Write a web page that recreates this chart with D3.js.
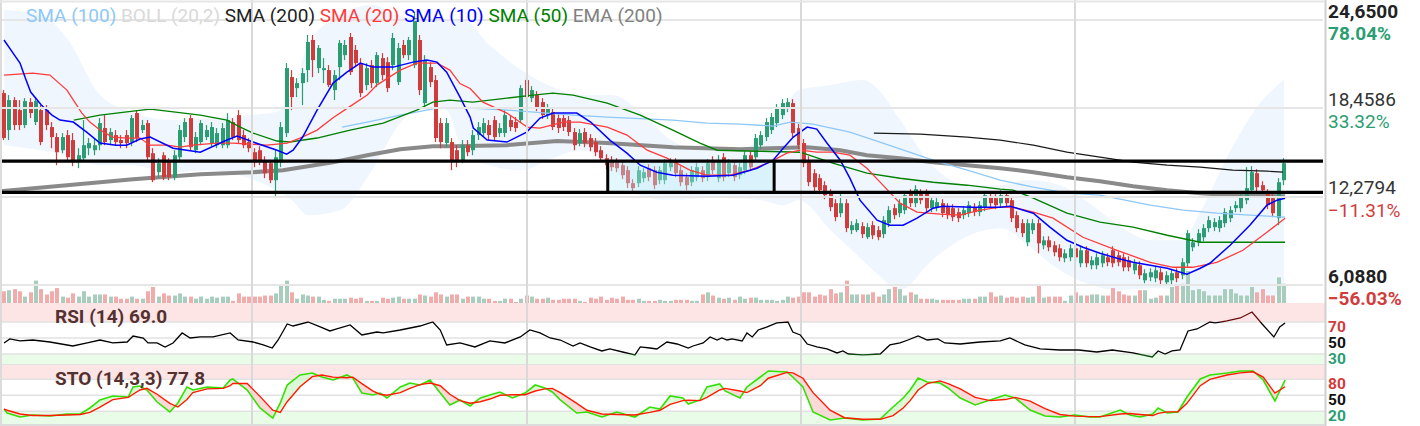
<!DOCTYPE html>
<html><head><meta charset="utf-8">
<script src="https://cdn.jsdelivr.net/npm/d3@7"></script>
<style>body{margin:0;background:#fff}svg{display:block;font-family:Roboto,"Noto Sans",sans-serif}</style>
</head><body><svg id="c" width="1420" height="426"></svg>
<script>
// ---------- DATA (weekly candles) ----------
const opens=[19.53,16.94,19.04,18.34,17.29,18.90,17.50,18.34,18.34,17.15,16.45,15.53,16.59,16.24,14.69,14.97,15.67,15.53,15.88,17.08,16.24,16.59,16.24,16.59,16.10,18.13,16.94,17.43,15.32,13.99,15.18,14.69,13.64,15.04,16.45,17.78,15.53,16.10,16.45,16.03,15.88,15.88,15.88,17.50,17.99,16.59,16.10,15.39,15.53,14.83,14.62,13.43,14.69,16.73,20.65,19.88,20.23,21.14,23.25,21.28,21.14,21.14,19.74,21.35,22.19,23.46,22.55,21.63,20.09,21.49,20.23,21.98,21.70,21.49,20.30,22.90,22.19,21.49,23.25,18.83,21.35,20.44,17.43,16.03,16.10,15.53,14.83,15.88,15.53,16.59,16.73,17.29,17.64,16.73,16.73,17.64,17.50,17.64,20.44,19.18,19.39,18.90,17.99,18.20,17.78,17.78,17.64,16.80,16.03,16.80,16.38,16.10,15.53,14.97,14.83,14.69,14.48,14.13,13.22,13.22,13.57,14.27,14.13,13.43,13.43,14.34,14.69,14.13,13.64,13.29,13.64,14.13,13.64,14.83,13.57,15.04,13.92,14.48,13.78,14.13,15.18,15.04,15.88,16.45,16.94,17.43,17.99,18.48,18.83,17.08,16.03,14.83,13.92,13.57,13.08,12.52,11.82,11.12,11.82,9.93,9.93,10.21,9.44,10.28,9.93,9.65,10.42,11.47,11.12,11.33,12.52,11.82,12.52,12.52,11.47,11.54,11.82,11.54,11.47,11.19,10.98,11.12,11.54,11.19,11.54,12.31,12.17,11.82,12.38,12.03,10.98,10.42,9.08,9.93,10.42,8.87,9.22,8.87,8.66,7.96,8.03,8.66,7.61,8.52,7.47,7.47,7.61,8.03,8.52,8.17,8.03,7.82,7.12,7.47,6.42,6.63,6.56,6.98,6.28,6.42,6.98,6.77,7.61,8.73,9.08,9.43,10.07,10.14,10.07,10.42,10.77,11.47,11.47,12.03,12.73,13.92,13.08,12.52,12.17,10.77,13.43];
const highs=[19.74,19.39,19.25,19.04,19.18,19.18,19.25,18.69,18.69,17.50,16.73,16.73,16.94,16.73,15.67,17.64,16.38,16.38,17.78,17.99,17.08,16.94,16.59,16.94,17.99,18.34,17.64,17.64,15.67,14.97,15.39,14.97,15.53,17.29,17.78,17.99,16.80,17.64,17.29,17.50,17.08,17.43,18.13,17.78,18.34,16.94,16.38,15.67,15.81,15.11,14.83,15.53,17.50,21.63,21.14,20.58,21.28,23.60,23.60,22.90,21.98,21.49,21.14,23.25,23.25,23.74,22.90,21.98,21.63,21.84,22.40,22.33,22.05,23.74,23.04,23.25,23.46,25.21,23.60,22.19,21.70,20.79,17.78,17.78,16.38,15.88,16.24,16.24,16.94,17.50,17.78,17.64,17.92,17.43,18.34,17.99,17.85,20.09,20.58,20.02,19.67,19.18,18.76,18.48,18.06,18.06,17.92,17.08,17.01,17.08,16.66,16.38,15.81,15.25,15.11,14.97,14.76,14.41,13.50,14.41,14.27,14.55,14.41,14.41,14.90,14.97,14.97,14.41,13.92,14.41,14.62,14.41,14.90,15.11,15.18,15.32,14.90,14.76,14.62,15.46,15.46,16.66,16.87,17.78,18.13,18.76,19.11,19.18,19.11,17.36,16.31,15.11,14.20,13.85,13.36,12.80,12.10,12.52,12.10,10.56,10.70,10.49,10.42,10.56,10.21,10.91,11.61,11.75,12.10,12.66,12.80,13.08,12.80,12.80,12.31,12.17,12.10,11.82,11.75,11.47,11.61,11.96,11.82,11.96,12.66,12.59,12.45,12.73,12.66,12.31,11.26,10.70,10.70,10.70,10.70,9.50,9.50,9.15,8.94,8.59,8.94,8.94,8.80,8.80,8.10,8.31,8.45,8.31,8.80,8.45,8.31,8.10,7.89,7.75,7.19,7.26,7.40,7.26,7.05,7.19,7.26,7.96,9.93,9.37,10.00,10.35,10.91,10.77,10.91,11.47,11.61,11.96,12.52,14.34,14.41,14.20,13.36,12.80,12.45,13.57,14.97];
const lows=[16.24,16.24,16.94,16.94,17.08,17.78,17.29,15.88,16.94,15.67,14.48,15.32,14.83,14.41,14.27,14.83,15.18,15.18,15.53,15.88,15.88,15.88,15.67,15.67,15.81,16.10,16.73,14.83,13.29,13.57,13.43,13.43,13.43,14.69,16.10,15.53,15.32,15.88,16.24,15.81,15.67,15.67,15.67,16.24,16.03,15.67,15.39,14.34,14.48,13.57,13.22,12.17,14.34,16.45,18.34,19.25,18.69,20.30,20.65,20.93,20.23,19.95,19.04,20.44,21.84,20.79,21.35,19.25,19.74,19.88,19.95,20.44,19.60,21.14,20.09,21.98,21.84,21.28,19.39,18.48,19.95,16.10,15.67,15.74,14.13,14.34,14.62,15.11,15.18,16.24,16.45,16.24,16.24,16.45,16.45,16.87,16.80,17.43,18.83,18.90,18.27,17.71,17.71,16.94,16.73,16.87,16.52,15.53,15.81,15.74,15.46,15.11,14.69,14.20,14.06,13.99,13.50,12.87,12.59,12.94,13.29,13.36,12.80,13.15,13.15,14.06,13.64,13.01,12.73,13.01,13.36,13.29,13.36,13.85,13.29,13.36,13.64,13.36,13.50,13.85,14.06,14.76,15.60,16.17,16.66,17.15,17.71,18.20,16.45,15.60,14.34,13.01,12.66,12.45,12.10,11.26,10.56,10.84,9.79,9.65,9.79,9.37,9.30,9.30,9.22,9.37,10.14,10.70,10.84,11.05,11.54,11.54,11.75,11.19,11.19,11.26,10.84,10.70,10.56,10.49,10.70,10.84,10.91,10.91,11.26,11.54,11.40,11.54,11.54,10.49,9.79,9.44,8.80,9.65,8.31,8.59,8.45,8.10,7.75,7.68,7.75,7.75,7.33,7.33,7.19,7.19,7.33,7.40,7.33,7.40,7.05,7.05,6.84,6.49,6.21,6.35,6.28,6.14,6.07,6.14,6.28,6.49,7.33,8.45,8.80,9.15,9.79,9.86,9.79,10.14,10.49,11.19,11.19,11.75,12.45,12.66,12.45,11.40,10.84,10.28,13.08];
const closes=[16.38,19.04,17.29,17.29,18.97,18.13,18.97,16.10,17.29,16.45,15.39,16.45,15.04,14.69,15.18,15.88,16.03,15.88,17.43,16.10,16.80,16.10,16.03,16.03,17.78,16.38,17.29,15.04,13.43,14.62,13.64,13.64,15.18,16.94,17.50,15.74,16.45,17.43,16.94,17.15,16.73,17.08,17.64,16.45,16.24,15.88,15.67,14.69,14.83,13.92,13.43,15.04,17.15,21.28,19.25,20.23,20.93,23.11,21.84,22.69,21.28,20.09,20.79,23.04,22.90,21.00,21.63,19.53,21.28,20.23,22.19,20.79,19.88,23.39,22.69,22.19,23.25,24.79,19.74,21.84,20.30,16.38,16.10,17.43,14.83,14.83,15.88,15.39,16.59,17.15,17.43,16.59,16.45,17.08,17.99,17.15,17.08,19.88,19.25,19.74,18.55,17.99,18.48,17.15,17.08,17.15,16.80,15.88,16.73,16.03,15.74,15.39,14.97,14.48,14.34,14.27,13.78,13.22,12.87,14.13,13.99,13.64,13.08,14.13,14.62,14.69,13.92,13.29,13.08,14.13,14.34,13.57,14.62,14.13,14.83,13.64,14.62,13.64,14.34,15.18,14.34,16.38,16.59,17.50,17.85,18.48,18.83,18.90,16.73,15.88,14.62,13.29,12.94,12.73,12.38,11.54,10.84,11.82,10.07,10.28,10.42,9.65,10.14,9.57,9.44,10.63,11.33,10.98,11.82,12.38,11.82,12.80,12.03,11.47,12.03,11.89,11.12,10.98,10.84,10.77,11.33,11.68,11.19,11.68,12.38,11.82,11.68,12.38,11.82,10.77,10.07,9.72,10.42,10.42,9.01,9.22,8.73,8.38,8.03,8.31,8.66,8.03,8.52,7.61,7.82,8.03,8.17,7.68,7.61,7.68,7.33,7.33,7.61,6.77,6.91,6.98,7.12,6.42,6.77,6.91,6.56,7.68,9.72,9.08,9.72,10.07,10.63,10.49,10.63,11.19,11.33,11.68,12.24,12.87,13.99,12.94,12.73,11.68,11.12,13.29,14.62];
const volumes=[11,12,13,11,6,10,21,13,8,11,14,6,5,9,6,11,6,8,8,8,6,6,4,4,6,4,4,11,15,6,9,7,7,9,6,6,4,6,4,6,5,6,6,2,9,6,6,6,6,7,7,9,17,21,10,4,8,7,6,6,3,2,4,4,4,5,4,5,2,2,2,5,4,5,6,4,4,4,8,7,6,10,8,6,8,8,4,6,6,6,4,4,2,2,4,4,1,4,7,6,4,4,5,3,3,4,4,4,2,1,5,4,6,3,5,4,6,3,3,4,2,2,2,3,2,2,3,3,3,2,2,8,10,7,5,4,5,3,6,4,5,5,3,3,3,2,3,6,5,6,10,10,6,8,7,13,9,10,21,8,8,8,8,10,6,8,13,15,13,7,10,8,4,4,4,3,3,3,3,3,4,4,4,6,6,10,6,7,5,6,5,6,5,6,17,5,6,6,6,2,7,10,7,7,8,8,7,7,14,11,8,7,7,12,12,4,5,7,7,15,17,18,30,12,13,11,7,7,7,13,13,9,7,7,15,10,13,7,7,24,18];

// moving averages: [bar index, price]
const sma10=[[0,23.25],[1.7,22.33],[3,21.63],[4,20.58],[5,19.6],[7,18.69],[9,17.99],[10.5,17.64],[13,17.5],[15.5,16.8],[18,16.03],[21,15.88],[23,15.88],[25.5,16.31],[27.4,16.45],[31.7,15.67],[36.8,15.39],[41.8,16.24],[43.7,16.52],[46.7,16.1],[51.2,15.53],[53,15.25],[54.2,15.53],[56,16.45],[58.7,18.34],[61.7,20.23],[64.3,21.0],[66.8,21.63],[69.2,21.35],[73,21.35],[76.7,21.7],[79.3,21.84],[81.2,21.7],[83,21.0],[85.5,19.25],[87.4,17.85],[88,17.08],[90.6,16.24],[94.3,16.1],[98,16.8],[100.5,17.78],[103,18.13],[107.4,18.13],[110,17.5],[113.6,16.24],[116.8,15.32],[119.3,14.48],[122.4,13.99],[125.4,13.78],[131.8,13.71],[136.7,13.78],[141.2,14.27],[144.2,14.83],[146.1,15.67],[148,16.45],[150.6,17.15],[152.4,17.01],[154.3,16.03],[156.8,14.83],[158.6,13.57],[160.5,12.03],[163.7,10.63],[166.1,10.28],[168.6,10.28],[171.2,10.77],[174.2,11.47],[176,11.61],[181.7,11.54],[186.8,11.54],[188.6,11.61],[193,11.12],[196.1,10.14],[199.3,9.22],[202.3,8.73],[205.5,8.31],[208.7,7.96],[211.7,7.68],[214.9,7.47],[218.1,7.26],[221.8,6.84],[224.3,7.26],[226.1,7.61],[229.9,8.87],[233.6,10.28],[236.8,11.68],[238.7,12.03],[240.2,12.17]];
const sma20=[[0,20.79],[5.4,20.93],[8.6,20.79],[11.8,19.74],[14.6,18.13],[16.1,17.5],[18,16.94],[20.4,16.45],[23.1,16.38],[25.5,16.38],[27.4,15.88],[30.6,15.88],[33,15.74],[35.4,15.88],[39.9,16.03],[42.9,16.03],[49.3,15.88],[53.1,16.03],[55.5,16.38],[58.7,16.94],[61.7,17.8],[64.9,18.6],[68.1,19.4],[69.9,20.09],[74.3,21.14],[77.4,21.63],[81.2,21.63],[83.6,21.14],[85.5,20.2],[87.4,19.85],[89.8,18.9],[94.3,18.13],[98.1,17.15],[100.5,17.08],[104.8,17.5],[108,17.5],[113.1,17.15],[116.8,16.59],[120.6,15.53],[124.3,14.97],[128.6,14.13],[131.8,13.78],[136.1,13.78],[139.9,14.13],[143.6,14.69],[146.8,15.32],[149.3,15.53],[152.4,15.39],[155.4,15.39],[158.6,15.18],[161.8,14.27],[164.8,13.08],[168,11.82],[171.2,11.19],[175.5,11.05],[179.3,10.98],[183,11.33],[186.8,11.54],[189.2,11.54],[193,11.19],[196.7,10.77],[202.3,9.43],[208.7,8.52],[214.9,7.68],[219.2,7.33],[222.9,7.33],[227.4,7.68],[232.3,8.52],[236.8,9.78],[240.2,10.77]];
const sma50=[[13.1,17.64],[18,17.99],[24.2,18.27],[27.4,18.41],[30.6,18.27],[36.8,17.99],[41.8,17.64],[44.3,17.15],[46.7,16.73],[51.2,16.17],[53.6,16.1],[58.7,16.38],[64.9,16.94],[71.1,17.43],[77.4,18.34],[80.4,18.9],[83.6,19.04],[87.9,18.9],[94.3,19.18],[99.2,19.39],[102.9,19.53],[106.7,19.39],[113.1,18.83],[119.3,17.99],[125.4,16.94],[130.5,16.03],[133.7,15.53],[141.2,15.46],[149.3,15.39],[155.4,14.62],[161.8,13.92],[168,13.57],[174.2,13.29],[180.6,13.08],[186.8,12.8],[189.2,12.73],[193,12.17],[199.3,11.12],[205.5,10.49],[211.7,10.14],[218.1,9.57],[224.3,9.08],[230.4,9.08],[240.2,9.08]];
const sma100=[[63.4,17.15],[68.1,17.5],[74.3,17.99],[81.2,18.48],[87.4,18.48],[94.3,18.34],[106.7,17.99],[113.1,17.85],[125.4,17.64],[131.8,17.43],[138,17.36],[144.2,17.22],[147.4,17.5],[151.7,17.36],[158.6,16.8],[164.8,16.03],[174.2,14.83],[180.6,14.13],[186.8,13.43],[193,12.94],[199.3,12.52],[205.5,12.38],[214.9,11.68],[221.1,11.33],[227.4,11.12],[233.6,10.98],[240.2,10.84]];
const sma200=[[163.1,16.73],[171.8,16.66],[180.6,16.45],[186.8,16.24],[193,15.88],[199.3,15.39],[205.5,15.04],[211.7,14.69],[218.1,14.48],[224.3,14.34],[230.4,14.13],[236.8,14.06],[239.8,13.99]];
const ema200=[[-0.8,12.66],[11.8,13.08],[24.2,13.5],[36.8,13.85],[46.7,13.99],[52.3,14.13],[61.7,14.69],[68.1,15.18],[74.3,15.6],[80.4,15.81],[84.2,15.81],[94.3,15.88],[103.7,16.17],[113.1,16.03],[125.4,15.74],[138,15.6],[150.6,15.74],[156.8,15.53],[161.8,15.18],[168,14.97],[174.2,14.69],[180.6,14.48],[186.8,14.27],[193,13.99],[199.3,13.64],[205.5,13.36],[211.7,13.01],[218.1,12.73],[224.3,12.52],[230.4,12.38],[240.2,12.31]];
// Bollinger (20,2)
const bollIdx=[0,7,12,18,24,31,39,46,51,54,57,63,69,74,80,83,86,91,97,102,108,114,119,125,131,136,142,146,149,155,161,164,168,174,181,187,192,198,204,209,215,221,224,230,236,240];
const bollUpper=[25.35,25.0,23.25,19.39,18.2,17.64,17.78,17.99,18.2,19.39,22.9,25.0,25.7,25.0,24.65,24.65,24.65,22.9,21.14,20.09,19.39,19.39,18.34,16.24,15.53,15.53,16.24,18.34,19.74,20.09,20.44,19.74,17.64,14.48,13.08,13.08,13.43,13.08,11.68,10.28,9.22,9.22,10.98,15.53,19.04,20.44];
const bollLower=[15.88,15.53,15.18,14.48,14.48,13.99,14.13,13.57,12.73,12.03,10.98,11.33,14.13,17.29,18.69,18.34,15.53,14.48,14.13,14.83,15.53,14.48,12.38,12.03,12.17,12.17,12.03,11.68,12.03,9.93,7.82,6.77,5.72,7.82,9.57,10.07,8.87,7.12,6.07,5.72,5.86,5.72,5.02,5.02,5.02,5.72];
// RSI (14): [bar index, value]
const rsi14=[[0,43.8],[1.1,48.8],[3,46.3],[5.4,47.5],[8.6,45],[12.9,40],[15.6,43.8],[18,47.5],[20.4,43.8],[23.1,45],[24.2,52.5],[26.1,50],[27,43.8],[28.7,43.8],[30.2,38.8],[31.7,43.8],[33.4,56.3],[34.9,50],[36.8,51.3],[39.2,51.3],[42.4,56.3],[43.9,47.5],[46.7,45],[48.6,41.3],[50.3,37.5],[51.4,47.5],[53.1,67.5],[54.2,65],[57,70],[59.3,63.8],[61.1,58.8],[62.4,61.3],[64.9,66.3],[67.1,53.8],[69.9,57.5],[71.1,56.3],[74.3,60],[78,65],[80.4,70],[81.8,60],[83,41.3],[85.5,43.8],[88.3,38.8],[91.1,46.3],[93.9,43.8],[96.8,51.3],[98.6,60],[100.5,56.3],[102.4,50],[104.3,47.5],[106.7,40],[108,43.8],[109.9,38.8],[112.1,33.8],[113.6,36.3],[116,32.5],[118.3,28.8],[119.3,38.8],[121.1,37.5],[122.4,36.3],[124.3,45],[126.2,42.5],[128.3,37.5],[129.2,40],[131.1,43.8],[132.4,51.3],[133.7,47.5],[134.6,50],[135.6,47.5],[136.5,48.8],[138.4,46.3],[139.3,56.3],[140.3,51.3],[141.4,60],[143.1,63.8],[144.9,68.8],[147,70],[147.9,57.5],[149.3,53.8],[150.6,42.5],[152.4,38.8],[154.3,36.3],[156.2,31.3],[157.3,33.8],[158.3,30],[161.1,28.8],[164.3,30],[166.1,41.3],[168,43.8],[169.5,47.5],[171.4,52.5],[173.1,47.5],[175.1,48.8],[176.4,43.8],[179.3,42.5],[183,45],[186.8,46.3],[188.6,50],[191.4,41.3],[194.3,36.3],[198,35],[201.5,35],[204.9,32.5],[207.8,35],[211.7,31.3],[215.3,26.3],[216.4,33.8],[217.7,30],[219,33.8],[220.5,35],[222,58.8],[223.7,61.3],[226.1,70],[227.1,68.8],[229.3,71.3],[231.8,75],[234,82.5],[235.9,67.5],[238.1,51.3],[239.2,63.8],[240.2,68.8]];
// STO (14,3,3)
const stoIdx=[0,0.6,3,5.4,8.6,11.8,14.3,16.1,18,20.4,23.3,24.2,25.5,26.8,28.7,31.1,32.6,34.3,35.4,38.1,41.1,42.4,42.9,45.6,48,50.4,51.8,53.1,55.5,57.8,59.6,61.7,64.3,65.4,67.1,69.2,70.5,71.8,74.3,76.1,78,79.9,81.8,83.6,85.5,87.4,89.3,91.1,93,95.3,97.7,99.6,101.4,102.8,104.3,107.4,109.3,112.1,114.9,118.3,121.1,123,124.9,127.3,128.3,130.5,131.8,134.2,135.2,138,139.3,141.8,143.3,146.8,147.9,149.8,151.7,154.9,157.6,161,164.3,166.7,168.6,169.9,171.4,173.1,175.5,177,179.3,182.1,184.9,187.7,189.6,192.4,195.2,198,200.8,203.6,205.5,209.3,211.1,213,215.4,216.4,218.1,220.1,221.8,224.3,226.1,229.3,231.8,234.2,236.1,238.3,240.2];
const stoK=[24.3,16.8,9.3,13.1,11.2,14.9,14.9,26.2,41.3,48.8,46.8,65.6,67.4,59.9,37.4,18.7,35.6,65.6,59.9,65.6,63.7,78.7,80.6,59.9,26.2,7.4,35.6,69.3,88.1,91.8,84.3,78.7,88.1,82.4,54.3,50.6,54.3,44.9,65.6,73.1,69.3,78.7,54.3,31.8,41.3,30,45,50.6,56.2,45,54.3,69.3,63.7,56.2,41.3,16.8,18.7,9.3,18.7,9.3,28.1,24.3,48.8,45,33.7,41.3,65.6,71.2,58.1,45,65.6,84.3,95.6,93.7,84.3,65.6,18.7,3.7,7.4,3.7,5.6,28.1,44.9,59.9,82.4,74.9,73.1,63.7,44.9,31.8,41.3,50.6,45,22.4,11.2,9.3,13.1,9.3,9.3,22.4,13.1,9.3,14.9,26.2,16.8,18.7,46.8,80.6,88.1,91.8,95.6,95.6,78.7,39.3,78.7];
const stoD=[24,22,15,12,12,13,14,18,28,42,46,52,60,63,52,35,28,42,55,62,63,68,72,72,48,22,18,38,66,85,88,84,83,84,72,58,52,50,55,63,70,73,68,52,40,35,38,43,50,51,51,58,62,63,55,35,22,15,14,13,18,22,33,40,41,40,46,60,63,58,55,68,82,93,92,82,55,22,8,5,5,12,26,40,60,72,77,72,62,46,40,42,46,39,25,14,11,10,10,15,16,14,12,16,19,19,35,68,80,88,92,94,84,54,66];

// annotations and ticks
const priceTicks=[24.65,18.4586,12.2794,6.088];
const refPrice=13.845;
const levels=[14.76,12.57];
const boxRange=[113.2,144.4];
const yearBreaks=[46.5,98.1,149.4,200.8];
const rsiLevels=[70,50,30];
const stoLevels=[80,50,20];
const legendItems=[["SMA (100)","#8ec8f8"],["BOLL (20,2)","#d9d9d9"],["SMA (200)","#222"],["SMA (20)","#ff3b3b"],["SMA (10)","#0000ff"],["SMA (50)","#008000"],["EMA (200)","#808080"]];
const rsiLabel="RSI (14) 69.0", stoLabel="STO (14,3,3) 77.8";

// ---------- SCALES ----------
const svg=d3.select("#c");
const AX=1325;
const x=d3.scaleLinear().domain([0,240]).range([4,1284]);
const y=d3.scaleLinear().domain([6.088,24.65]).range([285,20]);
const yVol=d3.scaleLinear().domain([0,30]).range([303,271]);
const yRsi=d3.scaleLinear().domain([30,70]).range([354,322]);
const ySto=d3.scaleLinear().domain([20,80]).range([411.3,379.3]);
const GREEN="#2a9e72", RED="#d03c3c";

const defs=svg.append("defs");
function clip(id,x0,y0,w,h){defs.append("clipPath").attr("id",id).append("rect").attr("x",x0).attr("y",y0).attr("width",w).attr("height",h);}
clip("cMain",0,0,AX,303);
clip("cRsiTop",0,303,AX,yRsi(70)-303);
clip("cRsiMid",0,yRsi(70),AX,yRsi(30)-yRsi(70));
clip("cRsiBot",0,yRsi(30),AX,364-yRsi(30));
clip("cSto",0,364,AX,61);

// ---------- BACKGROUND BANDS ----------
svg.append("rect").attr("x",0).attr("y",303).attr("width",AX).attr("height",yRsi(70)-303).attr("fill","#fde5e5");
svg.append("rect").attr("x",0).attr("y",yRsi(30)).attr("width",AX).attr("height",364-yRsi(30)).attr("fill","#e8fce8");
svg.append("rect").attr("x",0).attr("y",365).attr("width",AX).attr("height",ySto(80)-365).attr("fill","#fde5e5");
svg.append("rect").attr("x",0).attr("y",ySto(20)).attr("width",AX).attr("height",424-ySto(20)).attr("fill","#e8fce8");

const main=svg.append("g").attr("clip-path","url(#cMain)");
// Bollinger fill
main.append("path").datum(bollIdx.map((d,j)=>[d,bollUpper[j],bollLower[j]]))
  .attr("d",d3.area().x(d=>x(d[0])).y0(d=>y(d[2])).y1(d=>y(d[1])).curve(d3.curveMonotoneX))
  .attr("fill","#eff6fd");

// grid
const grid=svg.append("g");
priceTicks.forEach(p=>grid.append("line").attr("x1",0).attr("x2",AX-2).attr("y1",Math.round(y(p))).attr("y2",Math.round(y(p))).attr("stroke","#e6e6e6").attr("stroke-width",2));
rsiLevels.forEach(v=>grid.append("line").attr("x1",0).attr("x2",AX).attr("y1",yRsi(v)).attr("y2",yRsi(v)).attr("stroke","#e2e2e2").attr("stroke-width",1.5));
stoLevels.forEach(v=>grid.append("line").attr("x1",0).attr("x2",AX).attr("y1",ySto(v)).attr("y2",ySto(v)).attr("stroke","#e2e2e2").attr("stroke-width",1.5));
grid.append("line").attr("x1",0).attr("x2",AX).attr("y1",364.5).attr("y2",364.5).attr("stroke","#e2e2e2");
yearBreaks.forEach(b=>grid.append("line").attr("x1",Math.round(x(b))).attr("x2",Math.round(x(b))).attr("y1",0).attr("y2",426).attr("stroke","#d9d9d9").attr("stroke-width",2));

// volume
const idx=d3.range(closes.length);
main.append("g").selectAll("rect").data(idx).join("rect")
  .attr("x",i=>Math.round(x(i))-2).attr("width",4)
  .attr("y",i=>yVol(volumes[i])).attr("height",i=>303-yVol(volumes[i]))
  .attr("fill",i=>closes[i]>=opens[i]?"#a9cdbd":"#f2abab");

// EMA 200 (thick grey) under candles
const line=d3.line().x(d=>x(d[0])).y(d=>y(d[1]));
main.append("path").attr("d",line(ema200)).attr("fill","none").attr("stroke","#8a8a8a").attr("stroke-width",4);

// candles
const cg=main.append("g");
cg.selectAll("line").data(idx).join("line")
  .attr("x1",i=>Math.round(x(i))-0.5).attr("x2",i=>Math.round(x(i))-0.5)
  .attr("y1",i=>y(highs[i])).attr("y2",i=>y(lows[i]))
  .attr("stroke",i=>closes[i]>=opens[i]?GREEN:RED).attr("stroke-width",1.2);
cg.selectAll("rect").data(idx).join("rect")
  .attr("x",i=>Math.round(x(i))-2).attr("width",4)
  .attr("y",i=>y(Math.max(opens[i],closes[i])))
  .attr("height",i=>Math.max(1,Math.abs(y(opens[i])-y(closes[i]))))
  .attr("fill",i=>closes[i]>=opens[i]?GREEN:RED);

// box fill (over candles)
main.append("rect").attr("x",x(boxRange[0])).attr("width",x(boxRange[1])-x(boxRange[0]))
  .attr("y",y(levels[0])).attr("height",y(levels[1])-y(levels[0]))
  .attr("fill","rgb(185,238,248)").attr("fill-opacity",0.4);

// MA lines
[[sma100,"#8ec8f8",1.3],[sma200,"#1a1a1a",1.2],[sma50,"#008000",1.4],[sma20,"#ff3b3b",1.3],[sma10,"#0000ff",1.5]]
 .forEach(([d,c,w])=>main.append("path").attr("d",line(d)).attr("fill","none").attr("stroke",c).attr("stroke-width",w));

// horizontal levels and box sides
levels.forEach(p=>svg.append("line").attr("x1",2).attr("x2",AX-2).attr("y1",y(p)).attr("y2",y(p)).attr("stroke","#000").attr("stroke-width",3.2));
boxRange.forEach(b=>svg.append("line").attr("x1",x(b)).attr("x2",x(b)).attr("y1",y(levels[0])).attr("y2",y(levels[1])).attr("stroke","#000").attr("stroke-width",3));

// ---------- RSI ----------
const rline=d3.line().x(d=>x(d[0])).y(d=>yRsi(d[1]));
[["cRsiTop","#6a0a0a"],["cRsiMid","#000"],["cRsiBot","#0a4a0a"]].forEach(([c,col])=>
  svg.append("path").attr("clip-path",`url(#${c})`).attr("d",rline(rsi14)).attr("fill","none").attr("stroke",col).attr("stroke-width",1.3));

// ---------- STO ----------
const sg=svg.append("g").attr("clip-path","url(#cSto)");
for(let j=0;j<stoIdx.length-1;j++){
  const a=stoIdx[j],b=stoIdx[j+1];
  const up=(stoK[j]+stoK[j+1])>=(stoD[j]+stoD[j+1]);
  sg.append("path").attr("d",`M${x(a)},${ySto(stoK[j])}L${x(b)},${ySto(stoK[j+1])}L${x(b)},${ySto(stoD[j+1])}L${x(a)},${ySto(stoD[j])}Z`)
    .attr("fill",up?"#d2f7cc":"#f9cfcf").attr("fill-opacity",0.8);
}
const kl=stoIdx.map((d,j)=>[d,stoK[j]]), dl=stoIdx.map((d,j)=>[d,stoD[j]]);
const sline=d3.line().x(d=>x(d[0])).y(d=>ySto(d[1]));
sg.append("path").attr("d",sline(kl)).attr("fill","none").attr("stroke","#33e000").attr("stroke-width",1.6);
sg.append("path").attr("d",sline(dl)).attr("fill","none").attr("stroke","#ff1a00").attr("stroke-width",1.4);

// ---------- FRAME ----------
svg.append("line").attr("x1",AX+0.5).attr("x2",AX+0.5).attr("y1",0).attr("y2",426).attr("stroke","#d0d0d0").attr("stroke-width",2);
svg.append("line").attr("x1",1).attr("x2",1).attr("y1",0).attr("y2",426).attr("stroke","#dcdcdc").attr("stroke-width",2);
svg.append("line").attr("x1",0).attr("x2",AX).attr("y1",1.5).attr("y2",1.5).attr("stroke","#e6e6e6").attr("stroke-width",2);
svg.append("line").attr("x1",0).attr("x2",AX).attr("y1",425).attr("y2",425).attr("stroke","#dcdcdc").attr("stroke-width",2);

// ---------- TEXT ----------
const lg=svg.append("text").attr("x",26).attr("y",22).attr("font-size",19).style("white-space","pre");
legendItems.forEach(([t,c],j)=>lg.append("tspan").attr("fill",c).text((j?" ":"")+t));

svg.append("text").attr("x",55).attr("y",323).attr("font-size",19).attr("font-weight","bold").attr("fill","#553030").text(rsiLabel);
svg.append("text").attr("x",55).attr("y",385).attr("font-size",19).attr("font-weight","bold").attr("fill","#553030").text(stoLabel);

const fmtP=p=>d3.format(".4f")(p).replace(".",",");
priceTicks.forEach((p,j)=>{
  const edge=(j===0||j===priceTicks.length-1);
  const pct=(p/refPrice-1)*100;
  svg.append("text").attr("x",1328).attr("y",y(p)-2.5).attr("font-size",19).attr("font-weight",edge?"bold":"normal").attr("fill",edge?"#222":"#333").text(fmtP(p));
  svg.append("text").attr("x",1328).attr("y",y(p)+20).attr("font-size",19).attr("font-weight",edge?"bold":"normal").attr("fill",pct>=0?"#2a9e72":"#d23c3c").text(d3.format(".2f")(pct)+"%");
});
const lvlCol=["#d23c3c","#111","#2a9e72"];
rsiLevels.forEach((v,j)=>svg.append("text").attr("x",1328).attr("y",yRsi(v)+10).attr("font-size",15.5).attr("font-weight","bold").attr("fill",lvlCol[j]).text(v));
stoLevels.forEach((v,j)=>svg.append("text").attr("x",1328).attr("y",ySto(v)+10).attr("font-size",15.5).attr("font-weight","bold").attr("fill",lvlCol[j]).text(v));
</script></body></html>
